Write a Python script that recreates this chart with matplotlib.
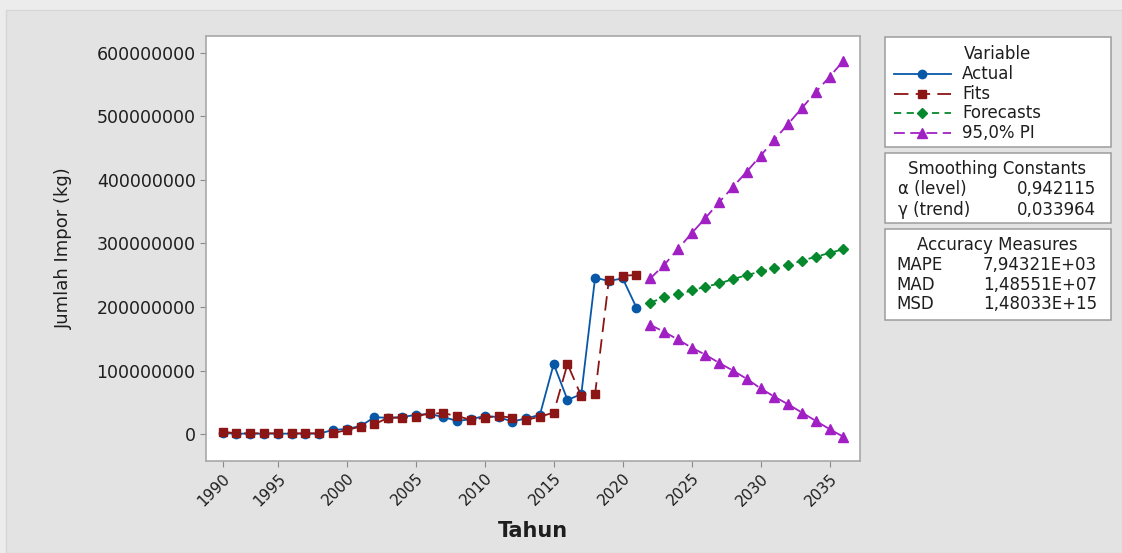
import matplotlib
matplotlib.use('Agg')
import matplotlib.pyplot as plt
from matplotlib.patches import Rectangle
from matplotlib.lines import Line2D

plt.rcParams['font.family'] = ['DejaVu Sans']

# observation index (Minitab time series plot uses the row index on x)
obs_actual = list(range(1, 32))
obs_forecast = list(range(32, 47))

# annual import volume (kg), 31 observations
actual = [1.6e6, 1.0e6, 1.0e6, 1.0e6, 1.0e6, 1.0e6, 1.0e6, 1.0e6, 6.8e6, 8.3e6,
          13.0e6, 26.7e6, 26.0e6, 27.0e6, 30.5e6, 32.0e6, 27.0e6, 21.0e6, 23.6e6, 28.8e6,
          27.0e6, 20.0e6, 25.0e6, 30.5e6, 110.5e6, 54.0e6, 63.0e6, 246.0e6, 241.0e6, 245.0e6,
          199.0e6]

# double exponential smoothing fitted values
fits = [4.0e6, 1.5e6, 1.5e6, 1.5e6, 1.5e6, 1.5e6, 1.5e6, 1.5e6, 1.5e6, 6.8e6,
        12.0e6, 15.7e6, 26.0e6, 26.0e6, 27.7e6, 33.0e6, 33.0e6, 28.8e6, 22.5e6, 26.0e6,
        28.8e6, 26.0e6, 22.5e6, 27.7e6, 34.0e6, 110.5e6, 60.0e6, 63.5e6, 243.0e6, 249.0e6,
        250.5e6]

forecast = [207e6, 215e6, 220e6, 226e6, 232e6, 237e6, 244e6, 250e6, 256e6, 261e6,
            266e6, 273e6, 279e6, 285e6, 291e6]
pi_upper = [245e6, 266e6, 291e6, 316e6, 340e6, 365e6, 389e6, 413e6, 438e6, 463e6,
            488e6, 513e6, 538e6, 562e6, 587e6]
pi_lower = [172e6, 161e6, 149e6, 136e6, 125e6, 112e6, 100e6, 87e6, 72e6, 59e6,
            47e6, 34e6, 21e6, 8e6, -4e6]

xtick_pos = [1, 5, 10, 15, 20, 25, 30, 35, 40, 45]
xtick_labels = ['1990', '1995', '2000', '2005', '2010', '2015', '2020', '2025', '2030', '2035']
ytick_vals = [0, 100000000, 200000000, 300000000, 400000000, 500000000, 600000000]

smoothing = [('\u03b1 (level)', '0,942115'), ('\u03b3 (trend)', '0,033964')]
accuracy = [('MAPE', '7,94321E+03'), ('MAD', '1,48551E+07'), ('MSD', '1,48033E+15')]

c_actual = '#0858a8'
c_fits = '#8c1515'
c_fc = '#06882c'
c_pi = '#a020c4'

W, H = 1122, 553
fig = plt.figure(figsize=(W / 100, H / 100), dpi=100, facecolor='#ececec')

# gray graph region behind everything
fig.patches.append(Rectangle((6 / W, 0), 1 - 6 / W, 1 - 10 / H, transform=fig.transFigure,
                             facecolor='#e3e3e3', edgecolor='#d6d6d6', linewidth=1, zorder=-5))

ax = fig.add_axes([206 / W, 1 - 461 / H, (860 - 206) / W, (461 - 36) / H], zorder=2)
ax.set_facecolor('white')

ax.plot(obs_actual, actual, color=c_actual, lw=1.3, marker='o', ms=6, zorder=3)
ax.plot(obs_actual, fits, color=c_fits, lw=1.3, ls=(0, (8, 4)), marker='s', ms=6, zorder=4)
ax.plot(obs_forecast, forecast, color=c_fc, lw=1.3, ls=(0, (4, 3)), marker='D', ms=5.5, zorder=4)
ax.plot(obs_forecast, pi_upper, color=c_pi, lw=1.3, ls=(0, (6, 3)), marker='^', ms=7, zorder=4)
ax.plot(obs_forecast, pi_lower, color=c_pi, lw=1.3, ls=(0, (6, 3)), marker='^', ms=7, zorder=4)

ax.set_xlim(-0.2, 47.2)
ax.set_ylim(-42e6, 626e6)
ax.set_xticks(xtick_pos)
ax.set_xticklabels(xtick_labels, rotation=45, ha='right', rotation_mode='anchor')
ax.set_yticks(ytick_vals)
ax.set_yticklabels([str(v) for v in ytick_vals])
ax.tick_params(axis='both', colors='#8a8a8a', labelcolor='#1e1e1e', length=4)
ax.tick_params(axis='y', labelsize=12.5)
ax.tick_params(axis='x', labelsize=11, pad=3)
for s in ax.spines.values():
    s.set_color('#a8a8a8')
    s.set_linewidth(1.2)

ax.set_xlabel('Tahun', fontsize=15, fontweight='bold', color='#1e1e1e')
ax.xaxis.set_label_coords(0.5, -0.142)
ax.set_ylabel('Jumlah Impor (kg)', fontsize=13, color='#1e1e1e')
ax.yaxis.set_label_coords(-0.203, 0.5)

# side panels drawn in pixel coordinates
ov = fig.add_axes([0, 0, 1, 1], zorder=10)
ov.set_xlim(0, W)
ov.set_ylim(H, 0)
ov.axis('off')

box_kw = dict(facecolor='white', edgecolor='#9c9c9c', linewidth=1.1)
ov.add_patch(Rectangle((885, 37), 226, 110, **box_kw))
ov.add_patch(Rectangle((885, 153), 226, 70, **box_kw))
ov.add_patch(Rectangle((885, 229), 226, 91, **box_kw))

tk = dict(fontsize=12, color='#1e1e1e', va='center')
ov.text(998, 54, 'Variable', ha='center', **tk)

legend_rows = [
    ('Actual', c_actual, '-', 'o', 6),
    ('Fits', c_fits, (0, (8, 4)), 's', 6),
    ('Forecasts', c_fc, (0, (4, 3)), 'D', 5.5),
    ('95,0% PI', c_pi, (0, (6, 3)), '^', 7),
]
for i, (name, col, ls, mk, ms) in enumerate(legend_rows):
    y = 74 + i * 19.7
    ov.add_line(Line2D([894, 951], [y, y], color=col, lw=1.3, ls=ls))
    ov.add_line(Line2D([922.5], [y], color=col, marker=mk, ms=ms, ls='none'))
    ov.text(962, y, name, ha='left', **tk)

ov.text(997, 168.5, 'Smoothing Constants', ha='center', **tk)
for i, (k, v) in enumerate(smoothing):
    y = 189.5 + i * 20.5
    ov.text(898, y, k, ha='left', **tk)
    ov.text(1096, y, v, ha='right', **tk)

ov.text(997, 245, 'Accuracy Measures', ha='center', **tk)
for i, (k, v) in enumerate(accuracy):
    y = 265 + i * 19.5
    ov.text(896, y, k, ha='left', **tk)
    ov.text(1097, y, v, ha='right', **tk)

fig.savefig('out.png', dpi=100, facecolor=fig.get_facecolor())
